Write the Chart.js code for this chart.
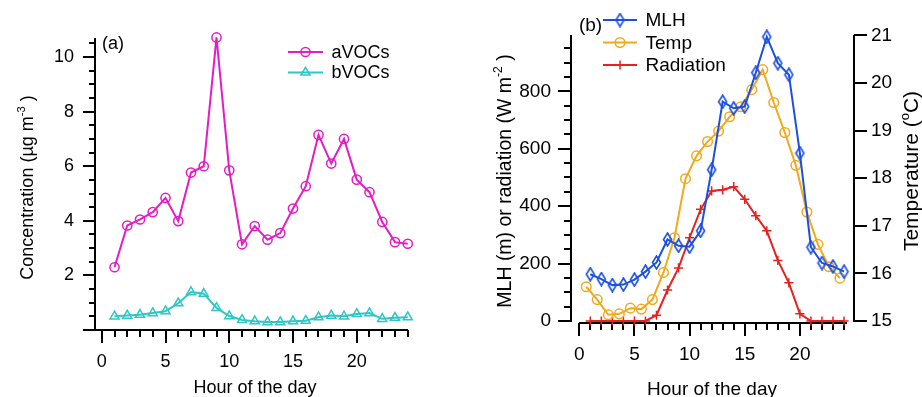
<!DOCTYPE html>
<html>
<head>
<meta charset="utf-8">
<script src="https://cdn.jsdelivr.net/npm/chart.js@4.4.1/dist/chart.umd.min.js"></script>
<style>
  html, body { margin: 0; padding: 0; background: #fff; }
  #wrap { position: relative; width: 922px; height: 397px; }
  canvas { position: absolute; top: 0; }
  #panelA { left: 0; width: 460px; height: 397px; }
  #panelB { left: 460px; width: 462px; height: 397px; }
</style>
</head>
<body>
<div id="wrap">
  <canvas id="panelA" width="460" height="397"></canvas>
  <canvas id="panelB" width="462" height="397"></canvas>
</div>
<script>
// ---------- DATA ----------
const hours = [1, 2, 3, 4, 5, 6, 7, 8, 9, 10, 11, 12, 13, 14, 15, 16, 17, 18, 19, 20, 21, 22, 23, 24];
const tempHours = [0.63, 1.63, 2.63, 3.63, 4.63, 5.63, 6.63, 7.63, 8.63, 9.63, 10.63, 11.63,
                   12.63, 13.63, 14.63, 15.63, 16.63, 17.63, 18.63, 19.63, 20.63, 21.63, 22.63, 23.63];

// panel (a): concentrations, ug m-3
const aVOCs = [2.30, 3.83, 4.05, 4.32, 4.84, 3.99, 5.77, 6.00, 10.72, 5.85, 3.14, 3.81,
               3.31, 3.55, 4.45, 5.27, 7.15, 6.10, 7.00, 5.51, 5.05, 3.96, 3.22, 3.16];
const bVOCs = [0.50, 0.53, 0.56, 0.62, 0.69, 0.98, 1.39, 1.33, 0.81, 0.51, 0.37, 0.32,
               0.29, 0.29, 0.32, 0.34, 0.47, 0.53, 0.50, 0.59, 0.62, 0.41, 0.45, 0.47];

// panel (b): mixing layer height (m), radiation (W m-2), temperature (C)
const mlh = [163, 146, 125, 127, 144, 172, 204, 284, 262, 259, 314, 527,
             764, 741, 747, 865, 990, 898, 858, 585, 257, 202, 190, 172];
const temp = [15.72, 15.45, 15.13, 15.15, 15.27, 15.25, 15.45, 16.02, 16.75, 17.99, 18.47, 18.77,
              18.99, 19.29, 19.50, 19.86, 20.28, 19.59, 18.96, 18.27, 17.29, 16.61, 16.14, 15.90];
const radiation = [0, 0, 0, 0, 0, 0, 20, 108, 185, 290, 389, 453,
                   457, 468, 424, 367, 314, 211, 133, 25, 0, 0, 0, 0];

// tick labels
const hourTicks = [0, 5, 10, 15, 20];
const concTicks = [2, 4, 6, 8, 10];
const mlhTicks = [0, 200, 400, 600, 800];
const tempTicks = [15, 16, 17, 18, 19, 20, 21];

// ---------- STYLE ----------
const FONT = 'Arial, "Liberation Sans", sans-serif';
const MAGENTA = '#e41cc6';
const TEAL = '#2fc6c6';
const BLUE = '#1c4fe0';
const ORANGE = '#f2a91c';
const RED = '#e52222';
const CLEAR = 'rgba(0,0,0,0)';

function range(from, to, step) {
    const out = [];
    for (let v = from; v <= to + 1e-9; v += step) out.push(+v.toFixed(4));
    return out;
}

// narrow open diamond used for the MLH markers
function diamondMarker(color) {
    const c = document.createElement('canvas');
    c.width = 11; c.height = 15;
    const g = c.getContext('2d');
    g.strokeStyle = color;
    g.lineWidth = 1.6;
    g.beginPath();
    g.moveTo(5.5, 1); g.lineTo(9.5, 7.5); g.lineTo(5.5, 14); g.lineTo(1.5, 7.5); g.closePath();
    g.stroke();
    return c;
}

function points(xs, ys) {
    return xs.map((x, i) => ({ x, y: ys[i] }));
}

function series(label, data, color, style, radius, axis) {
    return {
        label, data,
        borderColor: color, borderWidth: 2,
        pointStyle: style, pointRadius: radius, pointHoverRadius: radius,
        pointBorderColor: color, pointBorderWidth: 1.5,
        pointBackgroundColor: CLEAR, backgroundColor: CLEAR,
        tension: 0, clip: false, yAxisID: axis || 'y'
    };
}

// text with optional superscript pieces
function drawRich(ctx, parts, size) {
    const supSize = size * 0.62;
    const widths = parts.map(p => {
        ctx.font = `${p.sup ? supSize : size}px ${FONT}`;
        return ctx.measureText(p.t).width;
    });
    let x = -widths.reduce((a, b) => a + b, 0) / 2;
    ctx.fillStyle = '#000';
    ctx.textAlign = 'left';
    ctx.textBaseline = 'alphabetic';
    parts.forEach((p, i) => {
        ctx.font = `${p.sup ? supSize : size}px ${FONT}`;
        ctx.fillText(p.t, x, p.sup ? -size * 0.45 : 0);
        x += widths[i];
    });
}

// ---------- PLUGINS ----------
// plain black axes with outward major/minor ticks, drawn under the data
const axesPlugin = {
    id: 'axes',
    beforeDatasetsDraw(chart, args, opts) {
        const ctx = chart.ctx;
        const area = chart.chartArea;
        const L = Math.round(area.left), R = Math.round(area.right);
        const T = Math.round(area.top), B = Math.round(area.bottom);
        ctx.save();
        ctx.strokeStyle = '#000';
        ctx.lineWidth = 2;
        opts.list.forEach(ax => {
            const s = chart.scales[ax.scale];
            const marks = ax.major.map(v => [v, ax.majorLen])
                .concat((ax.minor || []).filter(v => !ax.major.includes(v)).map(v => [v, ax.minorLen]));
            ctx.beginPath();
            if (ax.side === 'bottom') {
                const y = B + (ax.gap || 0);
                const x0 = ax.from != null ? Math.round(s.getPixelForValue(ax.from)) : L - 1;
                ctx.moveTo(x0, y); ctx.lineTo(R, y);
                marks.forEach(([v, len]) => {
                    const x = Math.round(s.getPixelForValue(v));
                    ctx.moveTo(x, y); ctx.lineTo(x, y + len);
                });
            } else {
                const dir = ax.side === 'left' ? -1 : 1;
                const x = ax.side === 'left' ? L : R + (ax.gap || 0);
                ctx.moveTo(x, T); ctx.lineTo(x, B + 1);
                marks.forEach(([v, len]) => {
                    const y = Math.round(s.getPixelForValue(v));
                    ctx.moveTo(x, y); ctx.lineTo(x + dir * len, y);
                });
            }
            ctx.stroke();
        });
        ctx.restore();
    }
};

// legend drawn as line + marker + name
const keyPlugin = {
    id: 'key',
    afterDraw(chart, args, opts) {
        const ctx = chart.ctx;
        chart.data.datasets.forEach((ds, i) => {
            const y = opts.y + i * opts.step;
            ctx.save();
            ctx.strokeStyle = ds.borderColor;
            ctx.lineWidth = ds.borderWidth;
            ctx.beginPath();
            ctx.moveTo(opts.x, y); ctx.lineTo(opts.x + opts.len, y);
            ctx.stroke();
            ctx.fillStyle = CLEAR;
            ctx.lineWidth = ds.pointBorderWidth;
            Chart.helpers.drawPoint(ctx, {
                pointStyle: ds.pointStyle, radius: ds.pointRadius, rotation: 0, borderWidth: ds.pointBorderWidth
            }, opts.x + opts.len / 2, y);
            ctx.fillStyle = '#000';
            ctx.font = `${opts.size}px ${FONT}`;
            ctx.textAlign = 'left';
            ctx.textBaseline = 'middle';
            ctx.fillText(ds.label, opts.x + opts.len + opts.gap, y + 1);
            ctx.restore();
        });
    }
};

// axis titles and panel letters
const textPlugin = {
    id: 'texts',
    afterDraw(chart, args, opts) {
        const ctx = chart.ctx;
        opts.items.forEach(it => {
            ctx.save();
            ctx.translate(it.x, it.y);
            if (it.rotate) ctx.rotate(it.rotate);
            drawRich(ctx, it.parts, it.size);
            ctx.restore();
        });
    }
};

function tickFont(size) {
    return { font: { family: FONT, size }, color: '#000', autoSkip: false, maxRotation: 0 };
}

// ---------- PANEL (a) ----------
new Chart(document.getElementById('panelA'), {
    type: 'line',
    data: {
        datasets: [
            series('aVOCs', points(hours, aVOCs), MAGENTA, 'circle', 4.6),
            series('bVOCs', points(hours, bVOCs), TEAL, 'triangle', 5.2)
        ]
    },
    options: {
        responsive: false,
        animation: false,
        events: [],
        layout: { padding: { left: 0, top: 38, right: 52, bottom: 0 } },
        scales: {
            x: {
                type: 'linear', min: -0.53, max: 24.02,
                afterFit: s => { s.height = 67; },
                afterBuildTicks: s => { s.ticks = hourTicks.map(v => ({ value: v })); },
                grid: { display: false, drawTicks: false },
                border: { display: false },
                ticks: Object.assign(tickFont(18), { padding: 21 })
            },
            y: {
                type: 'linear', min: 0, max: 10.7,
                afterFit: s => { s.width = 95; },
                afterBuildTicks: s => { s.ticks = concTicks.map(v => ({ value: v })); },
                grid: { display: false, drawTicks: false },
                border: { display: false },
                ticks: Object.assign(tickFont(18), { padding: 21 })
            }
        },
        plugins: {
            legend: { display: false },
            tooltip: { enabled: false },
            axes: {
                list: [
                    { scale: 'x', side: 'bottom', major: hourTicks, minor: range(0, 24, 1), majorLen: 13, minorLen: 7 },
                    { scale: 'y', side: 'left', major: [0].concat(concTicks), minor: range(0, 10.5, 0.5), majorLen: 12, minorLen: 6 }
                ]
            },
            key: { x: 288, y: 52, step: 20.5, len: 35, gap: 8.5, size: 18 },
            texts: {
                items: [
                    { x: 113, y: 48.5, size: 18, parts: [{ t: '(a)' }] },
                    { x: 255, y: 392.5, size: 18, parts: [{ t: 'Hour of the day' }] },
                    { x: 33, y: 187.5, size: 18, rotate: -Math.PI / 2,
                      parts: [{ t: 'Concentration (\u00b5g m' }, { t: '-3', sup: true }, { t: ' )' }] }
                ]
            }
        }
    },
    plugins: [axesPlugin, keyPlugin, textPlugin]
});

// ---------- PANEL (b) ----------
new Chart(document.getElementById('panelB'), {
    type: 'line',
    data: {
        datasets: [
            series('MLH', points(hours, mlh), BLUE, diamondMarker(BLUE), 5),
            series('Temp', points(tempHours, temp), ORANGE, 'circle', 4.8, 'y1'),
            series('Radiation', points(hours, radiation), RED, 'cross', 4.6)
        ]
    },
    options: {
        responsive: false,
        animation: false,
        events: [],
        layout: { padding: { left: 0, top: 20, right: 0, bottom: 0 } },
        scales: {
            x: {
                type: 'linear', min: -0.75, max: 24.27,
                afterFit: s => { s.height = 76; },
                afterBuildTicks: s => { s.ticks = hourTicks.map(v => ({ value: v })); },
                grid: { display: false, drawTicks: false },
                border: { display: false },
                ticks: Object.assign(tickFont(19), { padding: 22 })
            },
            y: {
                type: 'linear', position: 'left', min: 0, max: 995,
                afterFit: s => { s.width = 111; },
                afterBuildTicks: s => { s.ticks = mlhTicks.map(v => ({ value: v })); },
                grid: { display: false, drawTicks: false },
                border: { display: false },
                ticks: Object.assign(tickFont(19), { padding: 20 })
            },
            y1: {
                type: 'linear', position: 'right', min: 15, max: 21,
                afterFit: s => { s.width = 75; },
                afterBuildTicks: s => { s.ticks = tempTicks.map(v => ({ value: v })); },
                grid: { display: false, drawTicks: false },
                border: { display: false },
                ticks: Object.assign(tickFont(19), { padding: 24 })
            }
        },
        plugins: {
            legend: { display: false },
            tooltip: { enabled: false },
            axes: {
                list: [
                    { scale: 'x', side: 'bottom', gap: 2, from: 0, major: hourTicks, minor: range(0, 24, 1), majorLen: 13, minorLen: 7 },
                    { scale: 'y', side: 'left', major: mlhTicks, minor: range(0, 950, 50), majorLen: 13, minorLen: 7 },
                    { scale: 'y1', side: 'right', gap: 7, major: tempTicks, minor: [], majorLen: 13, minorLen: 0 }
                ]
            },
            key: { x: 143, y: 20, step: 22.5, len: 34, gap: 8.5, size: 19 },
            texts: {
                items: [
                    { x: 130.5, y: 31, size: 19, parts: [{ t: '(b)' }] },
                    { x: 252, y: 395, size: 19, parts: [{ t: 'Hour of the day' }] },
                    { x: 51, y: 181, size: 19.5, rotate: -Math.PI / 2,
                      parts: [{ t: 'MLH (m) or radiation (W m' }, { t: '-2', sup: true }, { t: ' )' }] },
                    { x: 458, y: 171, size: 21, rotate: -Math.PI / 2,
                      parts: [{ t: 'Temperature (' }, { t: 'o', sup: true }, { t: 'C)' }] }
                ]
            }
        }
    },
    plugins: [axesPlugin, keyPlugin, textPlugin]
});
</script>
</body>
</html>
